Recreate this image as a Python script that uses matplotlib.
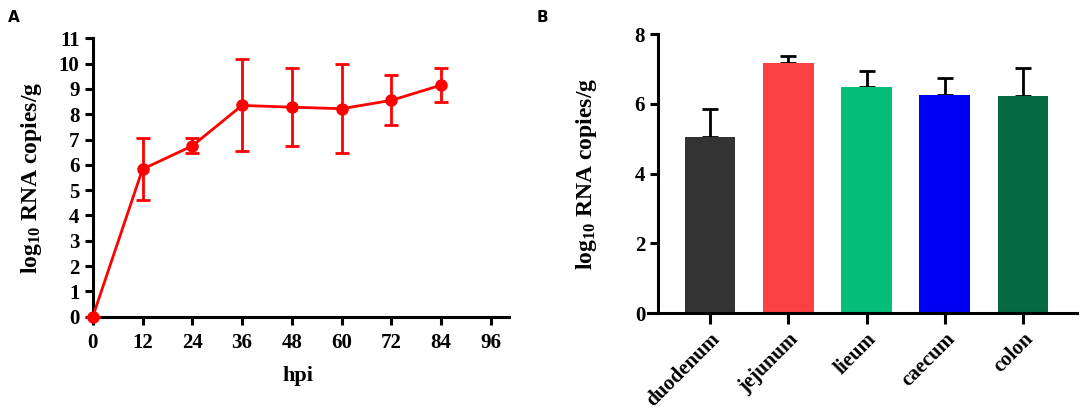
import matplotlib as ml
ml.use("Agg")
import matplotlib.pyplot as plt
import numpy as np

################################################################################
# data
################################################################################
# A: time course
hpi = [0, 12, 24, 36, 48, 60, 72, 84]
copies_mean = [0.0, 5.83, 6.75, 8.35, 8.28, 8.22, 8.55, 9.15]
copies_upper = [0.0, 7.05, 7.05, 10.2, 9.83, 10.0, 9.55, 9.82]
copies_lower = [0.0, 4.6, 6.45, 6.55, 6.75, 6.48, 7.58, 8.48]

# B: intestinal segments
segments = ['duodenum', 'jejunum', 'lieum', 'caecum', 'colon']
seg_mean = [5.06, 7.16, 6.49, 6.26, 6.22]
seg_upper = [5.86, 7.37, 6.94, 6.74, 7.02]
seg_colors = ['#333333', '#FA4043', '#05BF78', '#0000F5', '#056941']

################################################################################
# style
################################################################################
plt.rcParams['font.family'] = ['Liberation Serif', 'DejaVu Serif']
plt.rcParams['font.weight'] = 'bold'
plt.rcParams['mathtext.fontset'] = 'custom'
plt.rcParams['mathtext.rm'] = 'Liberation Serif:bold'
plt.rcParams['mathtext.it'] = 'Liberation Serif:bold'
plt.rcParams['mathtext.bf'] = 'Liberation Serif:bold'

YLABEL = r'log$_{10}$ RNA copies/g'
LW = 2.2

fig = plt.figure(figsize=(10.84, 4.17), dpi=100)


def style_axes(ax):
    for s in ['top', 'right']:
        ax.spines[s].set_visible(False)
    for s in ['left', 'bottom']:
        ax.spines[s].set_linewidth(LW)
    ax.tick_params(width=LW, length=6, labelsize=15)
    for lab in ax.get_xticklabels() + ax.get_yticklabels():
        lab.set_fontweight('bold')


################################################################################
# panel A
################################################################################
ax1 = fig.add_axes([0.0806, 0.2405, 0.3890, 0.6675])
err = [np.array(copies_mean) - np.array(copies_lower),
       np.array(copies_upper) - np.array(copies_mean)]
ax1.errorbar(hpi, copies_mean, yerr=err, color='#FF0000', lw=2, marker='o',
             markersize=8, elinewidth=2, capsize=4.7, capthick=2, clip_on=False,
             zorder=3)
ax1.set_xlim(-1.3, 100.4)
ax1.set_ylim(0, 11)
ax1.spines['left'].set_position(('data', 0))
ax1.set_xticks(np.arange(0, 97, 12))
ax1.set_yticks(np.arange(0, 12, 1))
style_axes(ax1)
ax1.tick_params(axis='x', pad=6)
ax1.set_xlabel('hpi', fontsize=16, fontweight='bold', labelpad=9)
ax1.set_ylabel(YLABEL, fontsize=17, fontweight='bold', labelpad=11)

################################################################################
# panel B
################################################################################
ax2 = fig.add_axes([0.5978, 0.2487, 0.3957, 0.6695])
x = np.arange(len(segments))
ax2.bar(x, seg_mean, width=0.65, color=seg_colors, zorder=2)
ax2.errorbar(x, seg_mean, yerr=[np.zeros(len(x)), np.array(seg_upper) - np.array(seg_mean)],
             fmt='none', ecolor='black', elinewidth=2, capsize=5.5, capthick=2,
             zorder=1)
ax2.set_xlim(-0.793, 4.69)
ax2.set_ylim(0, 8)
ax2.spines['left'].set_position(('data', -0.661))
ax2.set_yticks([0, 2, 4, 6, 8])
ax2.set_xticks(x)
ax2.set_xticklabels(segments)
style_axes(ax2)
ax2.tick_params(axis='x', length=8)
for lab in ax2.get_xticklabels():
    lab.set_rotation(45)
    lab.set_ha('right')
    lab.set_rotation_mode('anchor')
ax2.set_ylabel(YLABEL, fontsize=17, fontweight='bold', labelpad=26)

################################################################################
# panel letters
################################################################################
fig.text(0.007, 0.958, 'A', fontsize=11, fontweight='bold', family='DejaVu Sans',
         va='center')
fig.text(0.495, 0.958, 'B', fontsize=11, fontweight='bold', family='DejaVu Sans',
         va='center')

fig.savefig('out.png', dpi=100)
